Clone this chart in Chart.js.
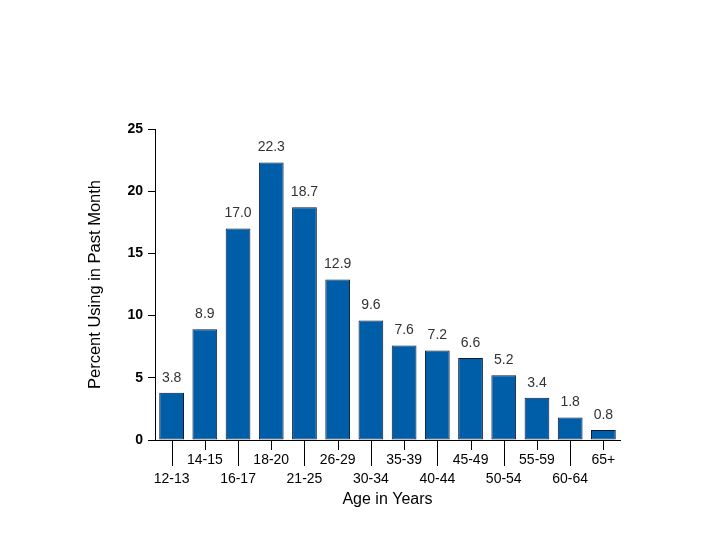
<!DOCTYPE html>
<html>
<head>
<meta charset="utf-8">
<script src="https://cdn.jsdelivr.net/npm/chart.js@4"></script>
<style>
html,body{margin:0;padding:0;background:#fff;}
#wrap{width:720px;height:540px;position:relative;}
</style>
</head>
<body>
<div id="wrap"><canvas id="c" width="720" height="540"></canvas></div>
<script>
const categories = ['12-13','14-15','16-17','18-20','21-25','26-29','30-34','35-39','40-44','45-49','50-54','55-59','60-64','65+'];
const values = [3.8, 8.9, 17.0, 22.3, 18.7, 12.9, 9.6, 7.6, 7.2, 6.6, 5.2, 3.4, 1.8, 0.8];
const yTicks = [0, 5, 10, 15, 20, 25];

const FONT = "'Liberation Sans', Arial, sans-serif";

// staggered labels: even index lower, odd index upper
const labels = categories.map((c, i) => i % 2 === 0 ? ['', c] : [c]);

const valueLabels = {
  id: 'valueLabels',
  afterDatasetsDraw(chart) {
    const ctx = chart.ctx;
    const meta = chart.getDatasetMeta(0);
    ctx.save();
    ctx.font = '14px ' + FONT;
    ctx.fillStyle = '#333';
    ctx.textAlign = 'center';
    ctx.textBaseline = 'middle';
    meta.data.forEach((el, i) => {
      ctx.fillText(values[i].toFixed(1), el.x, el.y - 15);
    });
    ctx.restore();
  }
};

const staggerTicks = {
  id: 'staggerTicks',
  afterDraw(chart) {
    const xs = chart.scales.x;
    const ctx = chart.ctx;
    ctx.save();
    ctx.strokeStyle = '#000';
    ctx.lineWidth = 1;
    categories.forEach((c, i) => {
      const x = Math.round(xs.getPixelForTick(i)) + 0.5;
      const len = i % 2 === 0 ? 26 : 10;
      ctx.beginPath();
      ctx.moveTo(x, xs.top);
      ctx.lineTo(x, xs.top + len);
      ctx.stroke();
    });
    ctx.restore();
  }
};

new Chart(document.getElementById('c'), {
  type: 'bar',
  data: {
    labels: labels,
    datasets: [{
      data: values,
      backgroundColor: '#005EA8',
      borderColor: '#0a1838',
      borderWidth: 1,
      borderSkipped: false,
      barPercentage: 0.745,
      categoryPercentage: 1.0
    }]
  },
  options: {
    responsive: false,
    animation: false,
    devicePixelRatio: 1,
    layout: { padding: { top: 129, right: 100, left: 0, bottom: 0 } },
    plugins: { legend: { display: false }, tooltip: { enabled: false } },
    scales: {
      x: {
        type: 'category',
        offset: true,
        grid: { display: false, drawTicks: false },
        border: { display: true, color: '#000', width: 1 },
        ticks: {
          autoSkip: false, maxRotation: 0, minRotation: 0,
          color: '#000',
          font: { family: FONT, size: 14, lineHeight: 1.35 },
          padding: 11
        },
        title: {
          display: true,
          text: 'Age in Years',
          color: '#000',
          font: { family: FONT, size: 16, lineHeight: 1.2 },
          padding: { top: 0, bottom: 31 }
        },
        afterFit(s) { s.height = 100; }
      },
      y: {
        min: 0, max: 25,
        afterBuildTicks(s) { s.ticks = yTicks.map(v => ({ value: v })); },
        grid: { drawOnChartArea: false, drawTicks: true, tickLength: 7, color: '#000' },
        border: { display: true, color: '#000', width: 1 },
        ticks: {
          color: '#000',
          font: { family: FONT, size: 14, weight: 'bold' },
          padding: 5
        },
        title: {
          display: true,
          text: 'Percent Using in Past Month',
          color: '#000',
          font: { family: FONT, size: 16.5, lineHeight: 1.2 },
          padding: { top: 86, bottom: 0 }
        },
        afterFit(s) { s.width = 155; }
      }
    }
  },
  plugins: [valueLabels, staggerTicks]
});
</script>
</body>
</html>
